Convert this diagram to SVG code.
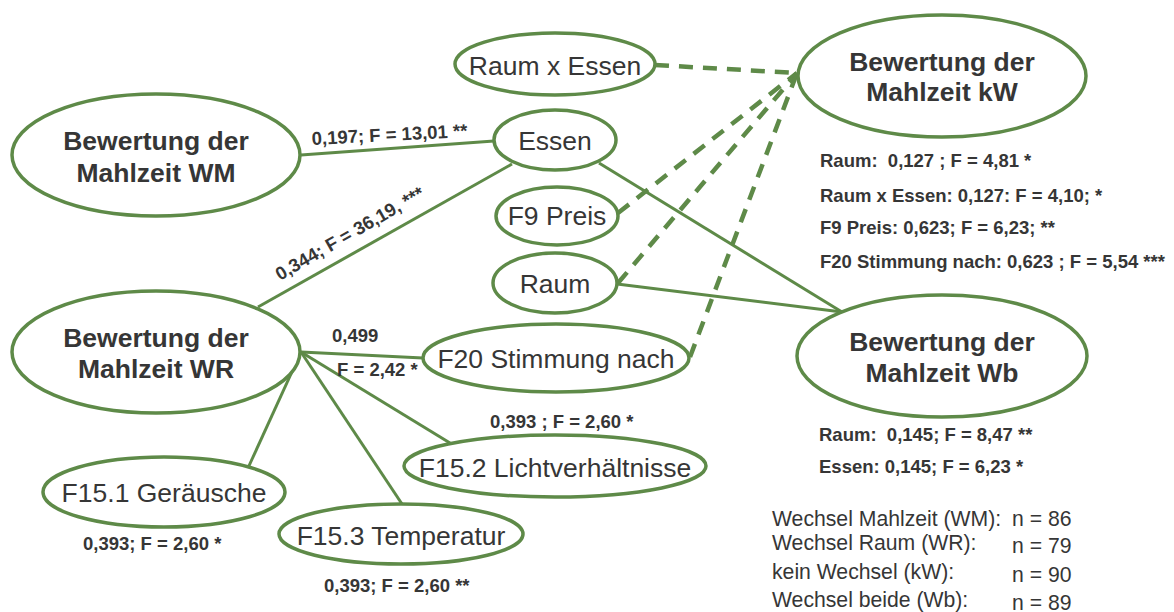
<svg xmlns="http://www.w3.org/2000/svg" width="1174" height="612" viewBox="0 0 1174 612">
<style>
.n{fill:#fff;stroke:#5e8a48;stroke-width:3.5}
.e{stroke:#5e8a48;stroke-width:3;fill:none}
.d{stroke:#5e8a48;stroke-width:4.5;fill:none;stroke-dasharray:14 10}
.big{font-family:"Liberation Sans",Arial,sans-serif;font-weight:bold;font-size:26.5px;fill:#363636;text-anchor:middle}
.reg{font-family:"Liberation Sans",Arial,sans-serif;font-size:26.5px;fill:#363636;text-anchor:middle}
.lbl{font-family:"Liberation Sans",Arial,sans-serif;font-weight:bold;font-size:18.5px;fill:#363636}
.leg{font-family:"Liberation Sans",Arial,sans-serif;font-size:21.2px;fill:#363636}
</style>
<rect width="1174" height="612" fill="#fff"/>
<g id="connectors">
<line class="e" x1="301" y1="155" x2="494" y2="141"/>
<line class="e" x1="258" y1="307" x2="512" y2="164"/>
<line class="e" x1="599" y1="163" x2="842" y2="312"/>
<line class="e" x1="617" y1="284" x2="842" y2="312"/>
<line class="e" x1="301" y1="352" x2="423" y2="358"/>
<line class="e" x1="301" y1="352" x2="450" y2="443"/>
<line class="e" x1="301" y1="352" x2="402" y2="504"/>
<line class="e" x1="301" y1="352" x2="248" y2="468"/>
<line class="d" x1="655" y1="65" x2="797" y2="73"/>
<line class="d" x1="618" y1="213" x2="797" y2="73"/>
<line class="d" x1="618" y1="283" x2="797" y2="73"/>
<line class="d" x1="690" y1="357" x2="797" y2="73"/>
</g>
<g id="WM"><ellipse class="n" cx="156" cy="155" rx="144" ry="61"/><text class="big" x="156" y="150">Bewertung der</text><text class="big" x="156" y="182">Mahlzeit WM</text></g>
<g id="WR"><ellipse class="n" cx="156" cy="352" rx="144" ry="61"/><text class="big" x="156" y="347">Bewertung der</text><text class="big" x="156" y="378">Mahlzeit WR</text></g>
<g id="kW"><ellipse class="n" cx="942" cy="76" rx="144" ry="61"/><text class="big" x="942" y="71">Bewertung der</text><text class="big" x="942" y="101">Mahlzeit kW</text></g>
<g id="Wb"><ellipse class="n" cx="942" cy="356" rx="145" ry="61"/><text class="big" x="942" y="351">Bewertung der</text><text class="big" x="942" y="382">Mahlzeit Wb</text></g>
<g id="RaumXEssen"><ellipse class="n" cx="555" cy="64" rx="100" ry="31"/><text class="reg" x="555" y="75">Raum x Essen</text></g>
<g id="Essen"><ellipse class="n" cx="555" cy="140" rx="61" ry="30"/><text class="reg" x="555" y="150">Essen</text></g>
<g id="F9"><ellipse class="n" cx="557" cy="216" rx="61" ry="29"/><text class="reg" x="557" y="225">F9 Preis</text></g>
<g id="Raum"><ellipse class="n" cx="555" cy="283" rx="62" ry="30"/><text class="reg" x="555" y="293">Raum</text></g>
<g id="F20"><ellipse class="n" cx="556" cy="358" rx="133" ry="34"/><text class="reg" x="556" y="368">F20 Stimmung nach</text></g>
<g id="F15_2"><ellipse class="n" cx="555" cy="466" rx="151" ry="31"/><text class="reg" x="555" y="477">F15.2 Lichtverhältnisse</text></g>
<g id="F15_3"><ellipse class="n" cx="401" cy="534" rx="122" ry="30"/><text class="reg" x="401" y="545">F15.3 Temperatur</text></g>
<g id="F15_1"><ellipse class="n" cx="164" cy="492" rx="121" ry="35"/><text class="reg" x="164" y="502">F15.1 Geräusche</text></g>
<g id="labels">
<text class="lbl" x="312" y="145" transform="rotate(-3 312 145)">0,197; F = 13,01 **</text>
<text class="lbl" x="280" y="281" transform="rotate(-30 280 281)">0,344; F = 36,19, ***</text>
<text class="lbl" x="332" y="342">0,499</text>
<text class="lbl" x="337" y="376">F = 2,42 *</text>
<text class="lbl" x="490" y="428">0,393 ; F = 2,60 *</text>
<text class="lbl" x="83" y="550">0,393; F = 2,60 *</text>
<text class="lbl" x="324" y="592">0,393; F = 2,60 **</text>
<text class="lbl" x="820" y="167" xml:space="preserve">Raum:  0,127 ; F = 4,81 *</text>
<text class="lbl" x="820" y="202">Raum x Essen: 0,127: F = 4,10; *</text>
<text class="lbl" x="820" y="234">F9 Preis: 0,623; F = 6,23; **</text>
<text class="lbl" x="820" y="268">F20 Stimmung nach: 0,623 ; F = 5,54 ***</text>
<text class="lbl" x="819" y="441" xml:space="preserve">Raum:  0,145; F = 8,47 **</text>
<text class="lbl" x="819" y="473">Essen: 0,145; F = 6,23 *</text>
<text class="leg" x="772" y="526">Wechsel Mahlzeit (WM):</text>
<text class="leg" x="772" y="550">Wechsel Raum (WR):</text>
<text class="leg" x="772" y="579">kein Wechsel (kW):</text>
<text class="leg" x="772" y="607">Wechsel beide (Wb):</text>
<text class="leg" x="1012" y="526">n = 86</text>
<text class="leg" x="1012" y="553">n = 79</text>
<text class="leg" x="1012" y="582">n = 90</text>
<text class="leg" x="1012" y="610">n = 89</text>
</g>
</svg>
